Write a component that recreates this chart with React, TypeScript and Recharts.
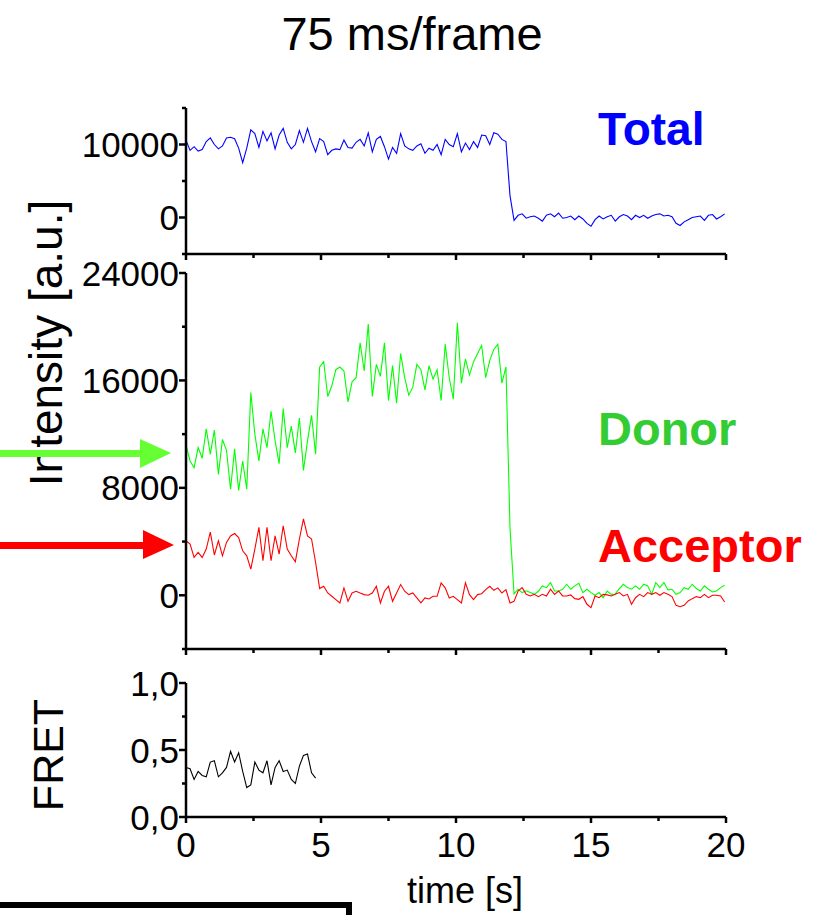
import React from 'react';
import { LineChart, Line, XAxis, YAxis } from 'recharts';

// one value every 2 frames (75 ms/frame)
const STEP_S = 0.15;

const TOTAL = [
  10600, 9200, 9700, 9100, 9300, 10400, 10900, 10000, 9400, 9800,
  10900, 11000, 10800, 9500, 7500, 9500, 12000, 11500, 9600, 11800,
  10500, 11600, 9400, 11300, 12200, 10300, 9400, 10000, 11900, 10300,
  12200, 10400, 9000, 10800, 10400, 8600, 9200, 9400, 9300, 10600,
  9600, 9500, 10300, 10700, 9800, 11600, 9000, 10700, 11100, 9700,
  8000, 9600, 8800, 11500, 9800, 9400, 9200, 9800, 10100, 8800,
  9500, 9200, 10000, 8600, 10700, 10000, 9700, 11500, 9000, 10200,
  9300, 10400, 9600, 11300, 11200, 10000, 11600, 11400, 10700, 10400,
  3000, -400, 300, 500, -100, 100, 200, -100, -500, 300,
  500, 100, 600, -100, 0, 200, -300, 200, -200, -800,
  -1200, -300, 200, -200, 100, 300, -500, 100, 400, 200,
  -300, 300, 0, 300, -100, 200, 400, 500, 200, 300,
  100, -800, -1100, -600, -300, 0, 100, 200, -400, 300,
  400, -200, 100, 500,
];

const DONOR = [
  11200, 10000, 9500, 11000, 10200, 12400, 10500, 12300, 9000, 11600,
  10800, 7900, 10900, 7800, 10000, 7900, 15100, 12000, 10000, 12400,
  11000, 13700, 11500, 9800, 13900, 11000, 12600, 10600, 13200, 9300,
  11500, 13400, 10500, 17000, 17400, 14800, 15600, 16800, 17000, 16700,
  14400, 15900, 16200, 18800, 16700, 20200, 14800, 17200, 16300, 18800,
  14500, 17100, 14300, 18000, 16200, 14900, 15500, 17200, 16800, 15300,
  17100, 16100, 16800, 14500, 18700, 16200, 14600, 20300, 15800, 17600,
  16400, 17400, 18000, 18600, 16200, 17500, 18300, 18700, 15800, 17000,
  5000, 100, 450, 200, 330, 200, 70, 300, 700, 570,
  950, 320, 320, 450, 820, 450, 700, 900, 200, 450,
  200, 0, 200, -180, 320, 70, 100, 500, 820, 570,
  450, 700, 450, 820, 700, 70, 950, 570, 950, 400,
  450, 70, 200, 570, 450, 820, 500, 320, 700, 450,
  250, 320, 570, 750,
];

const ACCEPTOR = [
  4060, 3810, 2820, 3190, 2820, 3440, 4700, 3000, 4060, 2940,
  3940, 4420, 4600, 4300, 3310, 2940, 1950, 3440, 5060, 2570,
  5060, 2570, 4420, 3070, 5180, 3440, 2940, 2500, 4190, 5690,
  4420, 4190, 2440, 500, 670, 170, -75, -320, -570, 550,
  -450, 170, 300, 170, 50, 0, 170, 670, -570, 300,
  670, -450, 170, 800, 300, 50, 170, -200, -570, -200,
  -270, -75, -75, 920, 550, -200, -75, -320, -570, 920,
  50, -320, 50, 120, 420, 670, 370, 550, 170, 420,
  -570, -450, 320, 570, 70, -50, 70, -100, 70, -50,
  450, 70, 320, -50, -50, 30, -250, -300, -100, -670,
  -920, -50, -180, 70, 30, -50, 70, 200, -50, 70,
  -670, -180, 70, -100, 200, 70, 200, 0, 200, 70,
  -100, -750, -850, -750, -420, -250, -100, -180, 70, -180,
  0, 0, -50, -500,
];

const FRET = [
  0.37, 0.36, 0.28, 0.34, 0.31, 0.30, 0.41, 0.42, 0.30, 0.33,
  0.37, 0.49, 0.41, 0.48, 0.34, 0.22, 0.24, 0.41, 0.35, 0.33,
  0.42, 0.24, 0.37, 0.42, 0.34, 0.35, 0.28, 0.25, 0.38, 0.46,
  0.47, 0.33, 0.29,
];

const TIME_TICKS = [0, 2.5, 5, 7.5, 10, 12.5, 15, 17.5, 20];
const TIME_LABELS = [0, 5, 10, 15, 20];
const TOTAL_TICKS = [-5000, 0, 5000, 10000, 15000];
const TOTAL_LABELS = [0, 10000];
const INT_TICKS = [-4000, 0, 4000, 8000, 12000, 16000, 20000, 24000];
const INT_LABELS = [0, 8000, 16000, 24000];
const FRET_TICKS = [0, 0.25, 0.5, 0.75, 1];
const FRET_LABELS = [0, 0.5, 1];

const rows = TOTAL.map((v, i) => ({
  t: Math.round(i * STEP_S * 100) / 100,
  total: v,
  donor: DONOR[i],
  acceptor: ACCEPTOR[i],
  fret: i < FRET.length ? FRET[i] : null,
}));

const FONT = '"Liberation Sans", Arial, Helvetica, sans-serif';
const AXIS = { stroke: '#000', strokeWidth: 2.5 };

const XTick = ({ x, y, payload, labels, show }: any) => {
  const major = labels.includes(payload.value);
  return (
    <g>
      <line x1={x} x2={x} y1={y} y2={y + (major ? 6 : 4)} stroke="#000" strokeWidth={2.5} />
      {show && major && (
        <text x={x} y={y + 40} textAnchor="middle" fontSize={35} fontFamily={FONT} fill="#000">
          {payload.value}
        </text>
      )}
    </g>
  );
};

const YTick = ({ x, y, payload, labels, fmt }: any) => {
  const major = labels.includes(payload.value);
  return (
    <g>
      <line x1={x} x2={x - (major ? 7 : 4)} y1={y} y2={y} stroke="#000" strokeWidth={2.5} />
      {major && (
        <text x={x - 7} y={y + 12.5} textAnchor="end" fontSize={35} fontFamily={FONT} fill="#000">
          {fmt ? fmt(payload.value) : payload.value}
        </text>
      )}
    </g>
  );
};

const fretFmt = (v: number) => v.toFixed(1).replace('.', ',');

const timeAxis = (show: boolean, height: number) => (
  <XAxis
    type="number"
    dataKey="t"
    domain={[0, 20]}
    ticks={TIME_TICKS}
    interval={0}
    height={height}
    tickSize={0}
    tickMargin={0}
    tickLine={false}
    axisLine={AXIS}
    allowDataOverflow
    tick={(p: any) => <XTick {...p} labels={TIME_LABELS} show={show} />}
  />
);

export default function App() {
  return (
    <div style={{ position: 'absolute', left: 0, top: 0, width: 818, height: 915, background: '#fff', overflow: 'hidden' }}>
      {/* Total */}
      <div style={{ position: 'absolute', left: 0, top: 0 }}>
        <LineChart width={818} height={290} data={rows} margin={{ top: 108, right: 92, bottom: 16, left: 0 }}>
          {timeAxis(false, 20)}
          <YAxis
            type="number"
            domain={[-5000, 15000]}
            ticks={TOTAL_TICKS}
            interval={0}
            width={186}
            tickSize={0}
            tickMargin={0}
            tickLine={false}
            axisLine={AXIS}
            allowDataOverflow
            tick={(p: any) => <YTick {...p} labels={TOTAL_LABELS} />}
          />
          <Line type="linear" dataKey="total" stroke="#0000ff" strokeWidth={1.1} dot={false} isAnimationActive={false} />
        </LineChart>
      </div>

      {/* Donor / Acceptor */}
      <div style={{ position: 'absolute', left: 0, top: 240 }}>
        <LineChart width={818} height={440} data={rows} margin={{ top: 33, right: 92, bottom: 11, left: 0 }}>
          {timeAxis(false, 20)}
          <YAxis
            type="number"
            domain={[-4000, 24000]}
            ticks={INT_TICKS}
            interval={0}
            width={186}
            tickSize={0}
            tickMargin={0}
            tickLine={false}
            axisLine={AXIS}
            allowDataOverflow
            tick={(p: any) => <YTick {...p} labels={INT_LABELS} />}
          />
          <Line type="linear" dataKey="donor" stroke="#00ff00" strokeWidth={1.1} dot={false} isAnimationActive={false} />
          <Line type="linear" dataKey="acceptor" stroke="#ff0000" strokeWidth={1.1} dot={false} isAnimationActive={false} />
        </LineChart>
      </div>

      {/* FRET */}
      <div style={{ position: 'absolute', left: 0, top: 650 }}>
        <LineChart width={818} height={265} data={rows} margin={{ top: 33, right: 92, bottom: 38, left: 0 }}>
          {timeAxis(true, 60)}
          <YAxis
            type="number"
            domain={[0, 1]}
            ticks={FRET_TICKS}
            interval={0}
            width={186}
            tickSize={0}
            tickMargin={0}
            tickLine={false}
            axisLine={AXIS}
            allowDataOverflow
            tick={(p: any) => <YTick {...p} labels={FRET_LABELS} fmt={fretFmt} />}
          />
          <Line type="linear" dataKey="fret" stroke="#000" strokeWidth={1.1} dot={false} isAnimationActive={false} />
        </LineChart>
      </div>

      {/* labels, arrows */}
      <svg width={818} height={915} style={{ position: 'absolute', left: 0, top: 0, pointerEvents: 'none' }} fontFamily={FONT}>
        <text x={412} y={50} textAnchor="middle" fontSize={47} fill="#000">75 ms/frame</text>
        <text transform="translate(62,343) rotate(-90)" textAnchor="middle" fontSize={46} fill="#000">Intensity [a.u.]</text>
        <text transform="translate(63,755) rotate(-90)" textAnchor="middle" fontSize={43} fill="#000">FRET</text>
        <text x={465} y={903} textAnchor="middle" fontSize={36} fill="#000">time [s]</text>

        <text x={598} y={145} fontSize={46} fontWeight="bold" fill="#0000ff">Total</text>
        <text x={598} y={445} fontSize={47} fontWeight="bold" fill="#33cc33">Donor</text>
        <text x={598} y={562} fontSize={47} fontWeight="bold" fill="#ff0000">Acceptor</text>

        <rect x={0} y={450} width={145} height={7} fill="#66ff33" />
        <polygon points="140,439 171,453 140,468" fill="#66ff33" />
        <rect x={0} y={542} width={148} height={7} fill="#ff0000" />
        <polygon points="143,530 174,545 143,559" fill="#ff0000" />

        <path d="M0,905 L349,905 L349,915" stroke="#000" strokeWidth={6} fill="none" />
      </svg>
    </div>
  );
}
